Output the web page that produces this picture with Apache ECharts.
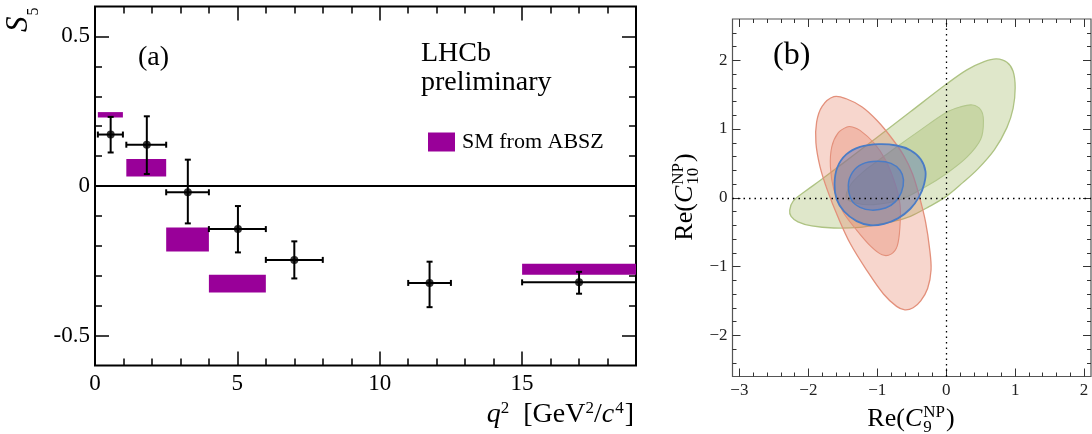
<!DOCTYPE html>
<html lang="en">
<head>
<meta charset="utf-8">
<title>S5 and C9 / C10 fit</title>
<script src="https://cdn.jsdelivr.net/npm/echarts@6/dist/echarts.min.js"></script>
<style>
  html, body { margin: 0; padding: 0; background: #fff; }
  #main { width: 1092px; height: 434px; }
</style>
</head>
<body>
<div id="main"></div>
<script>
// ---------- panel (a): S5 vs q2 ----------
var binLo = [0.1, 1.1, 2.5, 4.0, 6.0, 11.0, 15.0];
var binHi = [0.98, 2.5, 4.0, 6.0, 8.0, 12.5, 19.0];
var q2Mean = [0.55, 1.82, 3.26, 5.02, 7.0, 11.75, 17.0];
var s5 = [0.172, 0.138, -0.021, -0.144, -0.247, -0.324, -0.322];
var s5ErrUp = [0.059, 0.095, 0.109, 0.077, 0.062, 0.071, 0.035];
var s5ErrDown = [0.060, 0.098, 0.104, 0.078, 0.062, 0.081, 0.038];

// SM from ABSZ boxes
var smLo = [0.1, 1.1, 2.5, 4.0, 15.0];
var smHi = [0.98, 2.5, 4.0, 6.0, 19.0];
var smMin = [0.229, 0.032, -0.219, -0.356, -0.297];
var smMax = [0.247, 0.090, -0.139, -0.297, -0.260];

// ticks (a)
var aXMajor = [0, 5, 10, 15];
var aXMinor = [1, 2, 3, 4, 6, 7, 8, 9, 11, 12, 13, 14, 16, 17, 18];
var aYMajor = [-0.5, 0, 0.5];
var aYMinor = [-0.4, -0.3, -0.2, -0.1, 0.1, 0.2, 0.3, 0.4];

// ---------- panel (b): Re(C9) vs Re(C10) contours ----------
var greenOuter = [[-2.27, -0.18], [-2.22, -0.05], [-2.05, 0.09], [-1.83, 0.25], [-1.5, 0.5], [-1.0, 0.88],
  [-0.52, 1.25], [0.0, 1.65], [0.3, 1.86], [0.55, 1.98], [0.73, 2.02], [0.88, 1.97], [0.97, 1.84],
  [1.0, 1.6], [0.97, 1.3], [0.88, 1.02], [0.7, 0.7], [0.46, 0.42], [0.24, 0.22], [0.0, 0.02],
  [-0.25, -0.13], [-0.52, -0.27], [-0.75, -0.34], [-1.0, -0.39], [-1.25, -0.43], [-1.63, -0.44],
  [-1.95, -0.41], [-2.15, -0.35], [-2.25, -0.27]];
var greenInner = [[-1.45, 0.0], [-1.38, 0.2], [-1.2, 0.38], [-1.0, 0.53], [-0.76, 0.71], [-0.38, 0.98],
  [0.0, 1.24], [0.2, 1.32], [0.38, 1.35], [0.5, 1.28], [0.54, 1.12], [0.5, 0.85], [0.3, 0.59],
  [0.0, 0.35], [-0.3, 0.16], [-0.67, -0.03], [-1.05, -0.1], [-1.3, -0.08]];
var redOuter = [[-1.63, 1.47], [-1.45, 1.44], [-1.22, 1.32], [-1.0, 1.12], [-0.8, 0.88], [-0.62, 0.62],
  [-0.49, 0.35], [-0.39, 0.02], [-0.3, -0.35], [-0.24, -0.75], [-0.22, -1.05], [-0.27, -1.32],
  [-0.37, -1.5], [-0.48, -1.6], [-0.6, -1.63], [-0.72, -1.58], [-0.91, -1.4], [-1.15, -1.06],
  [-1.39, -0.67], [-1.57, -0.28], [-1.72, 0.1], [-1.83, 0.45], [-1.89, 0.8],
  [-1.88, 1.1], [-1.8, 1.33]];
var redInner = [[-1.44, 1.03], [-1.57, 0.94], [-1.66, 0.74], [-1.68, 0.45], [-1.63, 0.12], [-1.5, -0.2],
  [-1.3, -0.47], [-1.1, -0.7], [-0.93, -0.83], [-0.8, -0.82], [-0.71, -0.7], [-0.67, -0.4],
  [-0.67, -0.1], [-0.74, 0.2], [-0.88, 0.55], [-1.05, 0.8], [-1.25, 0.98], [-1.36, 1.03]];
var blueOuter = [[-1.62, 0.2], [-1.58, 0.44], [-1.45, 0.63], [-1.25, 0.74], [-0.98, 0.78], [-0.72, 0.76],
  [-0.52, 0.69], [-0.37, 0.56], [-0.3, 0.38], [-0.32, 0.2], [-0.39, 0.02], [-0.52, -0.16], [-0.7, -0.3],
  [-0.9, -0.38], [-1.1, -0.4], [-1.3, -0.34], [-1.48, -0.2], [-1.59, -0.02]];
var blueInner = [[-1.42, 0.18], [-1.36, 0.37], [-1.22, 0.49], [-1.0, 0.53], [-0.8, 0.5], [-0.67, 0.4],
  [-0.62, 0.26], [-0.65, 0.08], [-0.74, -0.06], [-0.88, -0.15], [-1.08, -0.18], [-1.25, -0.14],
  [-1.37, -0.04]];

// ticks (b)
var bXMajor = [-3, -2, -1, 0, 1, 2];
var bXMinor = [-2.8, -2.6, -2.4, -2.2, -1.8, -1.6, -1.4, -1.2, -0.8, -0.6, -0.4, -0.2,
  0.2, 0.4, 0.6, 0.8, 1.2, 1.4, 1.6, 1.8];
var bYMajor = [-2, -1, 0, 1, 2];
var bYMinor = [-2.4, -2.2, -1.8, -1.6, -1.4, -1.2, -0.8, -0.6, -0.4, -0.2,
  0.2, 0.4, 0.6, 0.8, 1.2, 1.4, 1.6, 1.8, 2.2, 2.4];

var SERIF = '"Liberation Serif", "Times New Roman", serif';

// 4 axes per direction: labelled major, minor, opposite major, opposite minor
function axisSet(grid, min, max, major, minor, sides, tick, label) {
  var list = [];
  sides.forEach(function (pos, k) {
    [[major, tick.major], [minor, tick.minor]].forEach(function (pair, j) {
      list.push({
        type: 'value', gridIndex: grid, position: pos, min: min, max: max,
        axisLine: { show: false, onZero: false }, splitLine: { show: false },
        axisTick: {
          show: true, inside: true, length: pair[1], customValues: pair[0],
          lineStyle: { color: tick.color, width: tick.width }
        },
        axisLabel: (k === 0 && j === 0) ? Object.assign({ customValues: major }, label) : { show: false }
      });
    });
  });
  return list;
}

var tickA = { major: 14, minor: 7, color: '#000', width: 1.5 };
var tickB = { major: 8, minor: 4, color: '#333', width: 1 };
var labA = { fontFamily: SERIF, fontSize: 23, color: '#000' };
var labB = { fontFamily: SERIF, fontSize: 17, color: '#222' };
function minusFmt(v) { return String(v).replace('-', '\u2212'); }

var xAxes = []
  .concat(axisSet(0, 0, 19, aXMajor, aXMinor, ['bottom', 'top'], tickA, Object.assign({ margin: 7 }, labA)))
  .concat(axisSet(1, -3.1, 2.1, bXMajor, bXMinor, ['bottom', 'top'], tickB, Object.assign({ margin: 6, formatter: minusFmt }, labB)));
var yAxes = []
  .concat(axisSet(0, -0.6, 0.6, aYMajor, aYMinor, ['left', 'right'], tickA, Object.assign({ margin: 5 }, labA)))
  .concat(axisSet(1, -2.6, 2.6, bYMajor, bYMinor, ['left', 'right'], tickB, Object.assign({ margin: 5, formatter: minusFmt }, labB)));

// measure text for the little formulas
var mctx = document.createElement('canvas').getContext('2d');
function measure(t, size, it) {
  mctx.font = (it ? 'italic ' : '') + size + 'px "Liberation Serif"';
  return mctx.measureText(t).width;
}
// parts: {t, it, pos: 1 sup / -1 sub, stack: under previous sup}
function formula(parts, size, anchor, opt) {
  opt = opt || {};
  var small = opt.small || Math.round(size * 0.66);
  var supUp = opt.supUp || size * 0.38, subDn = opt.subDn || size * 0.2;
  var x = 0, lastX = 0, out = [];
  parts.forEach(function (p) {
    var fs = p.pos ? small : size;
    var w = measure(p.t, fs, p.it);
    var x0 = p.stack ? lastX : x;
    var base = p.pos === 1 ? -supUp : (p.pos === -1 ? subDn : 0);
    out.push({
      type: 'text', x: x0 + (p.dx || 0), y: base - fs * 0.34, silent: true,
      style: { text: p.t, fontSize: fs, fontFamily: SERIF, fontStyle: p.it ? 'italic' : 'normal',
        fill: '#000', align: 'left', verticalAlign: 'middle' }
    });
    if (p.stack) { x = Math.max(x, x0 + w); } else { lastX = x0 + (p.dx || 0); x = x0 + w + (p.dx || 0); }
  });
  var dx = anchor === 'center' ? -x / 2 : (anchor === 'right' ? -x : 0);
  out.forEach(function (o) { o.x += dx; });
  return out;
}
function plain(str, x, baseline, size) {
  return { type: 'text', x: x, y: baseline - size * 0.34, silent: true,
    style: { text: str, fontSize: size, fontFamily: SERIF, fill: '#000', align: 'left', verticalAlign: 'middle' } };
}

var graphics = [
  plain('(a)', 138, 67, 28),
  plain('LHCb', 421, 63.5, 28),
  plain('preliminary', 421, 92.5, 28),
  plain('(b)', 773, 66, 32),
  { type: 'group', x: 29, y: 32, rotation: Math.PI / 2,
    children: formula([{ t: 'S', it: true }, { t: '5', pos: -1, dx: 1 }], 31, 'left', { small: 16, subDn: 10 }) },
  { type: 'group', x: 634, y: 424,
    children: formula([{ t: 'q', it: true }, { t: '2', pos: 1 }, { t: '  [GeV' }, { t: '2', pos: 1 },
      { t: '/' }, { t: 'c', it: true }, { t: '4', pos: 1, dx: 1 }, { t: ']', dx: 1 }], 28, 'right', { small: 17, supUp: 9.5 }) },
  { type: 'group', x: 911, y: 428,
    children: formula([{ t: 'Re(' }, { t: 'C', it: true }, { t: 'NP', pos: 1, dx: 1 },
      { t: '9', pos: -1, stack: true }, { t: ')', dx: 1 }], 26, 'center', { small: 17, supUp: 9.5, subDn: 5 }) },
  { type: 'group', x: 694, y: 197, rotation: Math.PI / 2,
    children: formula([{ t: 'Re(' }, { t: 'C', it: true }, { t: 'NP', pos: 1, dx: 1 },
      { t: '10', pos: -1, stack: true }, { t: ')', dx: 1 }], 26, 'center', { small: 17, supUp: 9.5, subDn: 5 }) }
];

// series data
var smData = smLo.map(function (v, i) { return [v, smHi[i], smMin[i], smMax[i]]; });
var errData = q2Mean.map(function (v, i) { return [v, s5[i], binLo[i], binHi[i], s5ErrDown[i], s5ErrUp[i]]; });
var ptData = q2Mean.map(function (v, i) { return [v, s5[i]]; });

function seg(a, b, st) { return { type: 'line', shape: { x1: a[0], y1: a[1], x2: b[0], y2: b[1] }, style: st }; }

function contour(pts, fill, stroke, lw) {
  return {
    type: 'custom', xAxisIndex: 4, yAxisIndex: 4, silent: true, data: pts,
    renderItem: function (params, api) {
      if (params.dataIndex !== 0) return null;
      return { type: 'polygon',
        shape: { points: pts.map(function (p) { return api.coord(p); }), smooth: 0.35 },
        style: { fill: fill, stroke: stroke, lineWidth: lw } };
    }
  };
}

var chart = echarts.init(document.getElementById('main'));
chart.setOption({
  animation: false,
  backgroundColor: '#fff',
  grid: [
    { left: 95, top: 6.5, width: 541, height: 359, show: true, borderColor: '#000', borderWidth: 2 },
    { left: 732.5, top: 19, width: 358.5, height: 357.5, show: true, borderColor: '#555', borderWidth: 1.2 }
  ],
  xAxis: xAxes,
  yAxis: yAxes,
  legend: {
    data: ['SM from ABSZ'], left: 423, top: 126, icon: 'rect', itemWidth: 27, itemHeight: 19,
    selectedMode: false, textStyle: { fontFamily: SERIF, fontSize: 22, color: '#000', padding: [0, 0, 0, 2] }
  },
  graphic: graphics,
  series: [
    {
      name: 'SM from ABSZ', type: 'custom', xAxisIndex: 0, yAxisIndex: 0, data: smData,
      itemStyle: { color: '#990099' },
      renderItem: function (params, api) {
        var p1 = api.coord([api.value(0), api.value(3)]);
        var p2 = api.coord([api.value(1), api.value(2)]);
        return { type: 'rect', shape: { x: p1[0], y: p1[1], width: p2[0] - p1[0], height: p2[1] - p1[1] },
          style: { fill: '#990099' } };
      },
      markLine: { silent: true, symbol: 'none', label: { show: false },
        lineStyle: { color: '#000', width: 2, type: 'solid' }, data: [{ yAxis: 0 }] }
    },
    {
      name: 'LHCb', type: 'custom', xAxisIndex: 0, yAxisIndex: 0, data: errData, z: 4,
      renderItem: function (params, api) {
        var x = api.value(0), y = api.value(1);
        var pL = api.coord([api.value(2), y]), pR = api.coord([api.value(3), y]);
        var pB = api.coord([x, y - api.value(4)]), pT = api.coord([x, y + api.value(5)]);
        var st = { stroke: '#000', lineWidth: 2 };
        var c = 3;
        return { type: 'group', children: [
          seg(pL, pR, st), seg(pB, pT, st),
          seg([pL[0], pL[1] - c], [pL[0], pL[1] + c], st),
          seg([pR[0], pR[1] - c], [pR[0], pR[1] + c], st),
          seg([pT[0] - c, pT[1]], [pT[0] + c, pT[1]], st),
          seg([pB[0] - c, pB[1]], [pB[0] + c, pB[1]], st)
        ] };
      }
    },
    {
      name: 'points', type: 'scatter', xAxisIndex: 0, yAxisIndex: 0, data: ptData, z: 5,
      symbol: 'circle', symbolSize: 8, itemStyle: { color: '#000' }, silent: true
    },
    contour(greenOuter, 'rgba(150,175,80,0.30)', '#aec383', 1.3),
    contour(greenInner, 'rgba(150,175,80,0.30)', '#b3c78c', 1.1),
    contour(redOuter, 'rgba(230,120,90,0.30)', '#e3907b', 1.3),
    contour(redInner, 'rgba(230,120,90,0.30)', '#e3907b', 1.1),
    contour(blueOuter, 'rgba(70,110,190,0.38)', '#4a7cc6', 1.8),
    contour(blueInner, 'rgba(70,110,190,0.30)', '#4a7cc6', 1.5),
    {
      name: 'axes0', type: 'line', xAxisIndex: 4, yAxisIndex: 4, data: [], z: 6,
      markLine: { silent: true, symbol: 'none', label: { show: false },
        lineStyle: { color: '#000', width: 1.3, type: [1.5, 4] }, data: [{ xAxis: 0 }, { yAxis: 0 }] }
    }
  ]
});
</script>
</body>
</html>
